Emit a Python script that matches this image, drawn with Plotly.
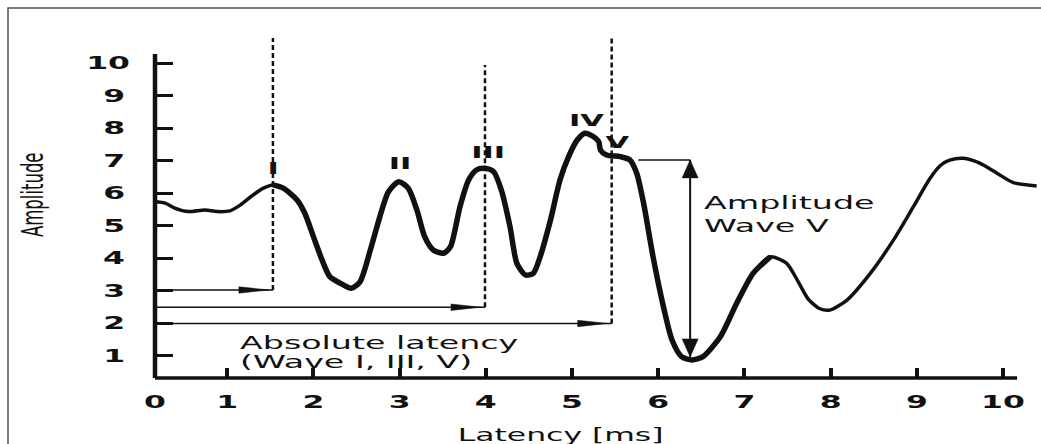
import plotly.graph_objects as go

# Auditory brainstem response: latency (ms) vs amplitude
latency = [0.16, 0.28, 0.39, 0.55, 0.74, 0.88, 1.03, 1.15, 1.30, 1.42,
           1.53, 1.65, 1.81, 1.90, 2.00, 2.10, 2.19, 2.31, 2.44, 2.54,
           2.66, 2.77, 2.87, 2.99, 3.10, 3.20, 3.29, 3.39, 3.51, 3.59,
           3.70, 3.80, 3.89, 3.99, 4.09, 4.18, 4.28, 4.36, 4.46, 4.55,
           4.63, 4.75, 4.86, 4.96, 5.06, 5.15, 5.25, 5.31, 5.33, 5.40,
           5.56, 5.67, 5.75, 5.83, 5.94, 6.06, 6.16, 6.27, 6.39, 6.52,
           6.72, 6.91, 7.10, 7.30, 7.49, 7.62, 7.74, 7.87, 7.99, 8.19,
           8.46, 8.73, 8.96, 9.15, 9.27, 9.38, 9.54, 9.73, 9.93, 10.12,
           10.39]
amplitude = [5.74, 5.70, 5.55, 5.44, 5.49, 5.44, 5.46, 5.64, 5.95, 6.16,
             6.26, 6.16, 5.80, 5.39, 4.67, 3.95, 3.44, 3.24, 3.08, 3.28,
             4.26, 5.28, 6.05, 6.36, 6.16, 5.49, 4.67, 4.26, 4.16, 4.36,
             5.59, 6.41, 6.72, 6.77, 6.67, 6.10, 4.98, 3.85, 3.49, 3.54,
             4.05, 5.18, 6.41, 7.13, 7.64, 7.85, 7.74, 7.59, 7.33, 7.18,
             7.13, 7.03, 6.62, 5.70, 4.05, 2.52, 1.49, 0.98, 0.88, 0.98,
             1.59, 2.62, 3.54, 4.05, 3.85, 3.30, 2.75, 2.46, 2.41, 2.72,
             3.54, 4.57, 5.59, 6.45, 6.85, 7.02, 7.08, 6.93, 6.62, 6.33,
             6.23]

# Wave labels (roman numerals) placed above each peak
peak_names = ["I", "II", "III", "IV", "V"]
peak_label_x = [1.53, 3.00, 4.03, 5.17, 5.53]
peak_label_y = [6.78, 6.93, 7.27, 8.23, 7.55]

# Absolute latency markers for waves I, III and V
marker_latency = [1.53, 3.99, 5.46]
marker_top = [10.78, 9.95, 10.81]
marker_level = [3.03, 2.50, 2.00]

# Amplitude of wave V (peak to following trough)
wave_v_peak = 7.03
wave_v_trough = 0.88
wave_v_arrow_x = 6.37
wave_v_ref_start = 5.77

x_ticks = [0, 1, 2, 3, 4, 5, 6, 7, 8, 9, 10]
y_ticks = [1, 2, 3, 4, 5, 6, 7, 8, 9, 10]

# ---- layout geometry -------------------------------------------------------
W, H = 1041, 444
ML, MR, MT, MB = 155, 1, 30, 66
PW, PH = W - ML - MR, H - MT - MB
PX_X, PX_Y = 86.2, 32.52          # pixels per data unit
X_MIN, Y_MIN = 0.162, 0.323
X_RANGE = [X_MIN, X_MIN + PW / PX_X]
Y_RANGE = [Y_MIN, Y_MIN + PH / PX_Y]
X_AXIS_END = 10.163
Y_AXIS_END = 10.286

INK = "#111111"
FONT = "DejaVu Sans"


def px_x(p):
    return p / PX_X


def px_y(p):
    return p / PX_Y


fig = go.Figure()

# whole trace at a medium weight, with the main wave complex drawn heavier on top
i0 = latency.index(1.53)
i1 = latency.index(7.30) + 1
for xs, ys, w in ((latency, amplitude, 3.5), (latency[i0:i1], amplitude[i0:i1], 5.5)):
    fig.add_trace(go.Scatter(
        x=xs, y=ys, mode="lines",
        line=dict(color=INK, width=w, shape="spline", smoothing=0.7),
        hoverinfo="skip", showlegend=False,
    ))

shapes = []

# axis lines
shapes.append(dict(type="line", xref="paper", yref="y", x0=0, x1=0,
                   y0=Y_MIN, y1=Y_AXIS_END, line=dict(color=INK, width=4.5)))
shapes.append(dict(type="line", xref="x", yref="paper", x0=X_MIN, x1=X_AXIS_END,
                   y0=0, y1=0, line=dict(color=INK, width=3.5)))

# dashed latency markers and arrows from the y axis
head_len, head_half = px_x(30), px_y(3.2)
for xm, top, lvl in zip(marker_latency, marker_top, marker_level):
    shapes.append(dict(type="line", xref="x", yref="y", x0=xm, x1=xm, y0=lvl, y1=top,
                       line=dict(color=INK, width=2.5, dash="5px,3px")))
    shapes.append(dict(type="line", xref="paper", yref="y", x0=0, x1=(xm - X_MIN) / (X_RANGE[1] - X_MIN),
                       y0=lvl, y1=lvl, line=dict(color=INK, width=1.5)))
    tip = xm - px_x(4)
    shapes.append(dict(type="path", xref="x", yref="y",
                       path=f"M {tip} {lvl} L {tip - head_len} {lvl + head_half} "
                            f"L {tip - head_len} {lvl - head_half} Z",
                       fillcolor=INK, line=dict(color=INK, width=0.5)))

# amplitude of wave V: reference line and double arrow
shapes.append(dict(type="line", xref="x", yref="y", x0=wave_v_ref_start, x1=wave_v_arrow_x,
                   y0=wave_v_peak, y1=wave_v_peak, line=dict(color=INK, width=1.5)))
bottom_tip = wave_v_trough + px_y(3)
shapes.append(dict(type="line", xref="x", yref="y", x0=wave_v_arrow_x, x1=wave_v_arrow_x,
                   y0=bottom_tip, y1=wave_v_peak, line=dict(color=INK, width=2)))
vh_len, vh_half = px_y(18), px_x(8)
xa = wave_v_arrow_x
for tipy, sgn in ((wave_v_peak, -1), (bottom_tip, 1)):
    shapes.append(dict(type="path", xref="x", yref="y",
                       path=f"M {xa} {tipy} L {xa - vh_half} {tipy + sgn * vh_len} "
                            f"L {xa + vh_half} {tipy + sgn * vh_len} Z",
                       fillcolor=INK, line=dict(color=INK, width=0.5)))

# outer frame
shapes.append(dict(type="rect", xref="paper", yref="paper",
                   x0=(8 - ML) / PW, x1=(W + 10 - ML) / PW,
                   y0=-(MB + 10) / PH, y1=(H - MB - 8) / PH,
                   line=dict(color="#505050", width=1.5), fillcolor="rgba(0,0,0,0)",
                   layer="below"))

annotations = []
for name, xl, yl in zip(peak_names, peak_label_x, peak_label_y):
    annotations.append(dict(x=xl, y=yl, xref="x", yref="y", text=f"<b>{name}</b>",
                            showarrow=False, xanchor="center", yanchor="middle",
                            font=dict(family=FONT, size=16.5, color=INK)))

text_blocks = [
    ("Absolute latency", 1.125, 1.43),
    ("(Wave I, III, V)", 1.125, 0.82),
    ("Amplitude<br>Wave V", 6.508, 5.38),
]
for txt, xl, yl in text_blocks:
    annotations.append(dict(x=xl, y=yl, xref="x", yref="y", text=txt, showarrow=False,
                            xanchor="left", yanchor="middle", align="left",
                            font=dict(family=FONT, size=18, color=INK)))

# axis titles
annotations.append(dict(x=4.861, y=(378 - 435) / PH, xref="x", yref="paper",
                        text="Latency [ms]", showarrow=False, xanchor="center",
                        yanchor="middle", align="center",
                        font=dict(family=FONT, size=17, color=INK)))
annotations.append(dict(x=(32 - ML) / PW, y=(378 - 195) / PH, xref="paper", yref="paper",
                        text="Amplitude", showarrow=False, textangle=-90,
                        xanchor="center", yanchor="middle",
                        font=dict(family=FONT, size=16.5, color=INK)))

fig.update_layout(
    width=W, height=H,
    margin=dict(l=ML, r=MR, t=MT, b=MB),
    paper_bgcolor="white", plot_bgcolor="white",
    showlegend=False,
    shapes=shapes,
    annotations=annotations,
    xaxis=dict(range=X_RANGE, showgrid=False, zeroline=False, showline=False,
               tickmode="array", tickvals=[max(v, X_MIN) for v in x_ticks],
               ticktext=[str(v) for v in x_ticks],
               ticks="inside", ticklen=10, tickwidth=3.5, tickcolor=INK,
               ticklabelstandoff=12,
               tickfont=dict(family=FONT, size=17, color=INK, weight="bold")),
    yaxis=dict(range=Y_RANGE, showgrid=False, zeroline=False, showline=False,
               tickmode="array", tickvals=y_ticks, ticktext=[str(v) for v in y_ticks],
               ticks="inside", ticklen=18, tickwidth=2.5, tickcolor=INK,
               ticklabelstandoff=34,
               tickfont=dict(family=FONT, size=17, color=INK, weight="bold")),
)

# widen the lettering horizontally (the drawing uses an extended typeface)
stretch_js = """
var S = 1.85;
var root = document.getElementById('{plot_id}');
function widen(el, mode, dir) {
  var b = el.getBBox();
  var t = el.getAttribute('transform') || '';
  if (dir === 'y') {
    var cy = b.y + b.height / 2;
    el.setAttribute('transform', t + ' translate(0,' + cy + ') scale(1,' + S + ') translate(0,' + (-cy) + ')');
  } else {
    var ax = mode === 'start' ? b.x : (mode === 'end' ? b.x + b.width : b.x + b.width / 2);
    el.setAttribute('transform', t + ' translate(' + ax + ',0) scale(' + S + ',1) translate(' + (-ax) + ',0)');
  }
}
root.querySelectorAll('.xtick text, .ytick text').forEach(function (el) { widen(el, 'middle', 'x'); });
root.querySelectorAll('.annotation-text').forEach(function (el) {
  var g = el.closest('.annotation-text-g');
  var rot = g && /rotate\\(-90/.test(g.getAttribute('transform') || '');
  widen(el, el.getAttribute('text-anchor'), rot ? 'y' : 'x');
});
"""

fig.write_html("out.html", config={"displayModeBar": False}, post_script=stretch_js)
